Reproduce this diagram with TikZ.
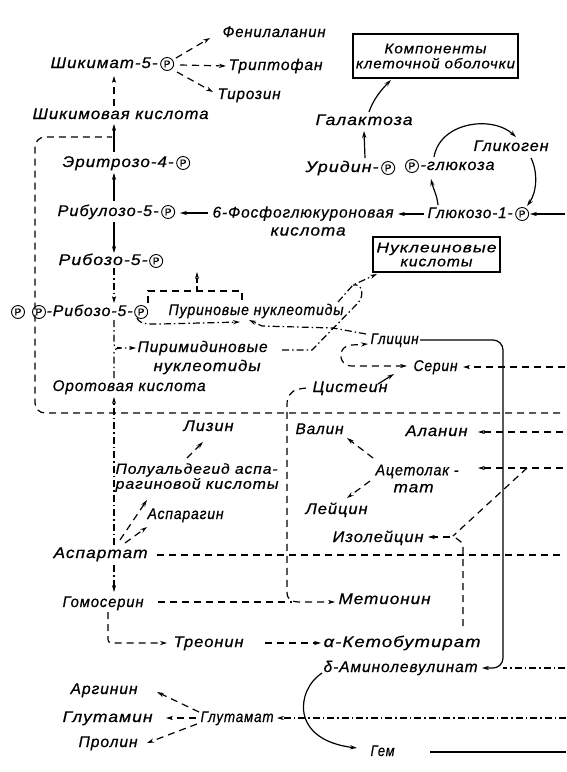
\documentclass[tikz,border=0pt]{standalone}
\usepackage{fontspec}
\usepackage{graphicx}
\setmainfont{Liberation Sans}
\newfontfamily\hand[LetterSpace=6,FakeBold=0.6]{Liberation Sans}
\newfontfamily\pfont[FakeBold=0.5]{Liberation Sans}
\usetikzlibrary{arrows.meta}
\newcommand\W[2]{\resizebox{#1pt}{\height}{#2}}
\tikzset{
  lbl/.style={font=\hand\itshape\fontsize{15.5}{18}\selectfont, inner sep=0pt, text height=11pt, text depth=3pt, anchor=west},
  mlbl/.style={inner sep=0pt, align=left, anchor=west},
  pc/.style={circle, draw, line width=0.9pt, inner sep=0pt, minimum size=13pt, font=\pfont\fontsize{10}{10}\selectfont},
  tip/.style={-{Stealth[length=7pt,width=4.2pt]}},
  tips/.style={{Stealth[length=7pt,width=4.2pt]}-{Stealth[length=7pt,width=4.2pt]}},
  dsh/.style={dash pattern=on 7pt off 5pt},
  dd/.style={dash pattern=on 7pt off 3pt on 1.5pt off 3pt},
  boxed/.style={draw, line width=1.2pt, align=center, inner sep=0pt},
}
\begin{document}
\begin{tikzpicture}[x=1pt,y=-1pt,line width=1.2pt]
\fill[white] (0,0) rectangle (567,772);
\useasboundingbox (0,0) rectangle (567,772);

% ---------- labels ----------
\node[lbl] (shik) at (50,64) {\W{107}{Шикимат-5-}};
\node[pc,anchor=west] (shikP) at ([xshift=2pt]shik.east) {P};
\node[lbl] (phe) at (222,33) {\W{103}{Фенилаланин}};
\node[lbl] (trp) at (228,66) {\W{94}{Триптофан}};
\node[lbl] (tyr) at (217,95) {\W{63}{Тирозин}};
\node[lbl] (shikac) at (32,115) {\W{176}{Шикимовая кислота}};
\node[lbl] (ery) at (62,163) {\W{111}{Эритрозо-4-}};
\node[pc,anchor=west] (eryP) at ([xshift=2pt]ery.east) {P};
\node[lbl] (ribu) at (57,212) {\W{101}{Рибулозо-5-}};
\node[pc,anchor=west] (ribuP) at ([xshift=2pt]ribu.east) {P};
\node[mlbl,font=\hand\itshape\fontsize{15.5}{18}\selectfont] (pgl) at (212,221) {\W{181}{6-Фосфоглюкуроновая}\\\hspace*{58pt}\W{75}{кислота}};
\node[lbl] (glc) at (427,214) {\W{85}{Глюкозо-1-}};
\node[pc,anchor=west] (glcP) at ([xshift=2pt]glc.east) {P};
\node[lbl] (urid) at (305,168) {\W{73}{Уридин-}};
\node[pc,anchor=west] (uridP) at ([xshift=2pt]urid.east) {P};
\node[pc] (pglcP) at (412,166) {P};
\node[lbl] (pglc) at ([xshift=1pt]pglcP.east) {\W{74}{-глюкоза}};
\node[lbl] (glyc) at (473,147) {\W{75}{Гликоген}};
\node[lbl] (gal) at (315,121) {\W{97}{Галактоза}};
\node[boxed,minimum width=165pt,minimum height=44pt,font=\hand\itshape\fontsize{14}{15}\selectfont] (box1) at (435.5,56) {\W{102}{Компоненты}\\\W{159}{клеточной оболочки}};
\node[lbl] (ribo) at (58,261) {\W{89}{Рибозо-5-}};
\node[pc,anchor=west] (riboP) at ([xshift=1pt]ribo.east) {P};
\node[pc] (pp1) at (18,312) {P};
\node[pc] (pp2) at (39,312) {P};
\node[lbl] (prpp) at (46,312) {\W{86}{-Рибозо-5-}};
\node[pc,anchor=west] (pp3) at ([xshift=1pt]prpp.east) {P};
\node[lbl] (pur) at (168,311) {\W{175}{Пуриновые нуклеотиды}};
\node[boxed,minimum width=127pt,minimum height=35pt,font=\hand\itshape\fontsize{14}{14}\selectfont] (box2) at (436.5,254.5) {\W{120}{Нуклеиновые}\\\W{72}{кислоты}};
\node[mlbl,font=\hand\itshape\fontsize{15.5}{19}\selectfont] (pyr) at (137,357.5) {\W{130}{Пиримидиновые}\\\hspace*{16pt}\W{107}{нуклеотиды}};
\node[lbl] (orot) at (52,387) {\W{153}{Оротовая кислота}};
\node[lbl] (gly) at (370,340) {\W{48}{Глицин}};
\node[lbl] (ser) at (413,367) {\W{44}{Серин}};
\node[lbl] (cys) at (312,388) {\W{75}{Цистеин}};
\node[lbl] (val) at (295,430) {\W{48}{Валин}};
\node[lbl] (ala) at (405,432) {\W{62}{Аланин}};
\node[mlbl,font=\hand\itshape\fontsize{15.5}{17}\selectfont] (acet) at (375,478.5) {\W{83}{Ацетолак -}\\\hspace*{18pt}\W{40}{тат}};
\node[lbl] (leu) at (305,510) {\W{62}{Лейцин}};
\node[lbl] (ile) at (332,538) {\W{91}{Изолейцин}};
\node[lbl] (lys) at (183,427) {\W{50}{Лизин}};
\node[mlbl,font=\hand\itshape\fontsize{14.5}{15}\selectfont] (asa) at (115,477.5) {\W{162}{Полуальдегид аспа-}\\\W{163}{рагиновой кислоты}};
\node[lbl] (asn) at (147,515) {\W{76}{Аспарагин}};
\node[lbl] (asp) at (53,554) {\W{94}{Аспартат}};
\node[lbl] (hser) at (62,603) {\W{81}{Гомосерин}};
\node[lbl] (met) at (338,600) {\W{92}{Метионин}};
\node[lbl] (thr) at (173,643) {\W{70}{Треонин}};
\node[lbl] (akb) at (323,643) {\W{157}{α-Кетобутират}};
\node[lbl] (dala) at (323,668) {\W{154}{δ-Аминолевулинат}};
\node[lbl] (glu) at (200,718) {\W{73}{Глутамат}};
\node[lbl] (arg) at (70,690) {\W{67}{Аргинин}};
\node[lbl] (gln) at (62,718) {\W{90}{Глутамин}};
\node[lbl] (pro) at (78,743) {\W{59}{Пролин}};
\node[lbl] (heme) at (370,752) {\W{24}{Гем}};

% ---------- coordinates ----------
\coordinate (pheOut) at (176,58);   \coordinate (pheIn) at (210,38);
\coordinate (trpOut) at (180,65);   \coordinate (trpIn) at (226,66);
\coordinate (tyrOut) at (177,72);   \coordinate (tyrIn) at (213,92);
\coordinate (shikB) at (114,76);    \coordinate (shikacT) at (114,106);
\coordinate (shikacB) at (114,124); \coordinate (pepJ) at (112,137);
\coordinate (eryT) at (114,152);    \coordinate (eryB) at (114,173);
\coordinate (ribuT) at (114,201);   \coordinate (ribuB) at (114,222);
\coordinate (riboT) at (114,253);   \coordinate (riboB) at (114,268);
\coordinate (prppT) at (114,303);   \coordinate (prppB) at (114,320);
\coordinate (brJ) at (121,348);     \coordinate (pyrIn) at (136,348);
\coordinate (orotT) at (114,378);   \coordinate (orotB) at (114,397);
\coordinate (aspT) at (114,545);    \coordinate (aspB) at (114,565);
\coordinate (hserT) at (114,592);
\coordinate (pepR) at (560,413);
\coordinate (pglOut) at (208,213);  \coordinate (ribuIn) at (180,213);
\coordinate (glcOut) at (424,214);  \coordinate (pglIn) at (398,214);
\coordinate (glcR) at (565,214);    \coordinate (glcPIn) at (530,214);
\coordinate (glcUp) at (438,205);   \coordinate (pglcDn) at (431,179);
\coordinate (pglcUp) at (434,157);  \coordinate (glycIn) at (516,137);
\coordinate (glycOut) at (531,158); \coordinate (glcPTop) at (527,206);
\coordinate (uridUp) at (365,158);  \coordinate (galIn) at (364,131);
\coordinate (galOut) at (369,112);  \coordinate (box1In) at (391,80);
\coordinate (pp3Out) at (137,318);  \coordinate (purIn) at (240,322);
\coordinate (brkL) at (148,303);    \coordinate (brkR) at (242,301);
\coordinate (brkC) at (197,291);    \coordinate (brkUp) at (197,272);
\coordinate (glyOut) at (366,334);  \coordinate (purIn2) at (249,320);
\coordinate (pyrOut) at (282,350);  \coordinate (loopJ) at (353,285);
\coordinate (purOut) at (338,302);  \coordinate (box2In) at (377,274);
\coordinate (serW) at (407,366);    \coordinate (glyIn) at (368,344);
\coordinate (cysOut) at (378,384);  \coordinate (serSW) at (394,374);
\coordinate (serR) at (565,367);    \coordinate (serIn) at (463,367);
\coordinate (glyE) at (420,340);    \coordinate (dalaIn) at (482,668);
\coordinate (dalaR) at (565,668);   \coordinate (dalaJ) at (503,668);
\coordinate (cysW) at (306,388);    \coordinate (metIn) at (335,602);
\coordinate (hserE) at (158,602);   \coordinate (metJ) at (292,602);
\coordinate (hserB) at (108,612);   \coordinate (thrIn) at (167,643);
\coordinate (thrOut) at (265,643);  \coordinate (akbIn) at (321,643);
\coordinate (aspE) at (157,555);    \coordinate (aspR) at (563,555);
\coordinate (aspO1) at (120,540);   \coordinate (asaIn) at (147,500);
\coordinate (aspO2) at (125,543);   \coordinate (asnIn) at (147,527);
\coordinate (asaOut) at (187,458);  \coordinate (lysIn) at (203,442);
\coordinate (acetO1) at (373,458);  \coordinate (valIn) at (347,438);
\coordinate (acetO2) at (370,481);  \coordinate (leuIn) at (347,498);
\coordinate (acetR) at (563,468);   \coordinate (acetIn) at (478,468);
\coordinate (alaR) at (563,432);    \coordinate (alaIn) at (478,432);
\coordinate (ileJ) at (527,468);    \coordinate (ileV) at (453,536);
\coordinate (akbUp) at (463,626);   \coordinate (ileOut) at (450,537);
\coordinate (ileIn) at (428,537);
\coordinate (dalaOut) at (322,673); \coordinate (hemeIn) at (357,748);
\coordinate (hemeOut) at (430,752); \coordinate (hemeR) at (566,752);
\coordinate (gluR) at (566,718);    \coordinate (gluIn) at (277,718);
\coordinate (gluO1) at (199,712);   \coordinate (argIn) at (157,692);
\coordinate (gluO2) at (196,718);   \coordinate (glnIn) at (166,718);
\coordinate (gluO3) at (197,724);   \coordinate (proIn) at (147,743);

% ---------- connectors ----------
\draw[dsh,tip] (pheOut) -- (pheIn);
\draw[dsh,tip] (trpOut) -- (trpIn);
\draw[dsh,tip] (tyrOut) -- (tyrIn);
\draw[dsh,tip] (shikacT) -- (shikB);
\draw[tip] (eryT) -- (shikacB);
\draw[dsh,rounded corners=10pt] (pepR) -- (35,413) -- (35,137) -- (pepJ);
\draw[tip] (ribuT) -- (eryB);
\draw[tip] (pglOut) -- (ribuIn);
\draw[tip] (glcOut) -- (pglIn);
\draw[tip] (glcR) -- (glcPIn);
\draw[tip] (glcUp) .. controls (437,195) and (433,188) .. (pglcDn);
\draw[tip] (pglcUp) .. controls (440,122) and (492,115) .. (glycIn);
\draw[tip] (glycOut) .. controls (538,172) and (537,192) .. (glcPTop);
\draw[tip] (uridUp) -- (galIn);
\draw[tip] (galOut) .. controls (373,100) and (381,90) .. (box1In);
\draw[tip] (ribuB) -- (riboT);
\draw[dd,tip] (riboB) -- (prppT);
\draw[dd] (prppB) -- (114,342) .. controls (114,347) .. (brJ);
\draw[dd,tip] (orotT) -- (114,354) .. controls (114,349) .. (brJ) -- (pyrIn);
\draw[dd,tip] (aspT) -- (orotB);
\draw[dd,tip] (aspB) -- (hserT);
\draw[dd,tip] (pp3Out) .. controls (140,325) and (150,324) .. (160,324) -- (purIn);
\draw[dsh] (brkL) -- (148,291) -- (242,291) -- (brkR);
\draw[dash pattern=on 5pt off 3pt,tip] (brkC) -- (brkUp);
\draw[dd,tip] (glyOut) -- (333,328) -- (262,326) -- (purIn2);
\draw[dd] (pyrOut) -- (312,350) -- (358,303) .. controls (365,295) and (362,283) .. (loopJ);
\draw[dd,tip] (purOut) -- (loopJ) -- (box2In);
\draw[dsh,tips] (serW) -- (352,366) .. controls (337,366) and (337,345) .. (352,345) -- (glyIn);
\draw[tip] (cysOut) -- (serSW);
\draw[dsh,tip] (serR) -- (serIn);
\draw[tip,rounded corners=10pt] (glyE) -- (503,340) -- (503,668) -- (dalaIn);
\draw[dd] (dalaR) -- (dalaJ);
\draw[dsh,tip] (cysW) -- (299,389) .. controls (290,391) and (287,397) .. (287,405) -- (287,592) .. controls (287,600) and (292,602) .. (300,602) -- (metIn);
\draw[dsh] (hserE) -- (metJ);
\draw[dsh,tip] (hserB) -- (108,636) .. controls (108,643) .. (116,643) -- (thrIn);
\draw[dsh,tip] (thrOut) -- (akbIn);
\draw[dsh] (aspE) -- (aspR);
\draw[dsh,tip] (aspO1) -- (asaIn);
\draw[dsh,tip] (aspO2) -- (asnIn);
\draw[dsh,tip] (asaOut) -- (lysIn);
\draw[dsh,tip] (acetO1) -- (valIn);
\draw[dsh,tip] (acetO2) -- (leuIn);
\draw[dsh,tip] (acetR) -- (acetIn);
\draw[dsh,tip] (alaR) -- (alaIn);
\draw[dsh] (ileJ) -- (ileV);
\draw[dsh] (akbUp) -- (463,549) .. controls (463,543) .. (ileV);
\draw[dsh,tip] (ileOut) -- (ileIn);
\draw[tip] (dalaOut) .. controls (296,690) and (290,740) .. (hemeIn);
\draw (hemeOut) -- (hemeR);
\draw[dd,tip] (gluR) -- (gluIn);
\draw[dsh,tip] (gluO1) -- (argIn);
\draw[dsh,tip] (gluO2) -- (glnIn);
\draw[dsh,tip] (gluO3) -- (proIn);
\end{tikzpicture}
\end{document}
